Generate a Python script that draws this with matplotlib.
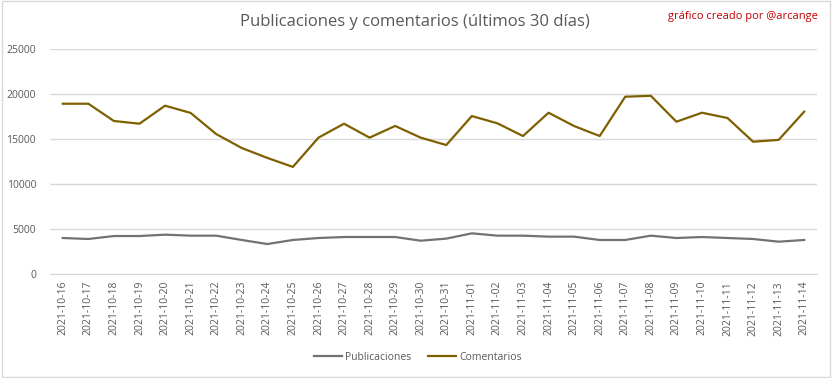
import numpy as np
import matplotlib.pyplot as plt
import matplotlib.patches as patches

# datos
fechas = ['2021-10-16', '2021-10-17', '2021-10-18', '2021-10-19', '2021-10-20',
          '2021-10-21', '2021-10-22', '2021-10-23', '2021-10-24', '2021-10-25',
          '2021-10-26', '2021-10-27', '2021-10-28', '2021-10-29', '2021-10-30',
          '2021-10-31', '2021-11-01', '2021-11-02', '2021-11-03', '2021-11-04',
          '2021-11-05', '2021-11-06', '2021-11-07', '2021-11-08', '2021-11-09',
          '2021-11-10', '2021-11-11', '2021-11-12', '2021-11-13', '2021-11-14']

publicaciones = [4000, 3890, 4220, 4220, 4370, 4260, 4260, 3780, 3330, 3780,
                 4000, 4110, 4110, 4110, 3700, 3930, 4520, 4260, 4260, 4150,
                 4150, 3780, 3780, 4260, 4000, 4110, 4000, 3890, 3590, 3780]

comentarios = [18920, 18920, 17000, 16700, 18700, 17900, 15550, 14000, 12900, 11900,
               15150, 16700, 15150, 16450, 15150, 14330, 17550, 16740, 15330, 17920,
               16440, 15330, 19700, 19800, 16920, 17920, 17330, 14700, 14900, 18040]

gris_texto = '#595959'
col_pub = '#767171'
col_com = '#7F6000'

plt.rcParams['font.family'] = ['Open Sans', 'DejaVu Sans']

fig = plt.figure(figsize=(8.32, 3.78), dpi=100)
fig.patch.set_facecolor('white')

# borde exterior del gráfico
fig.patches.append(patches.Rectangle((0.002, 0.003), 0.995, 0.994, transform=fig.transFigure,
                                     fill=False, edgecolor='#D9D9D9', linewidth=1))

ax = fig.add_axes([50 / 832, 1 - 274 / 378, 767 / 832, 225 / 378])
x = np.arange(len(fechas))
ax.plot(x, publicaciones, color=col_pub, linewidth=1.6, label='Publicaciones', solid_joinstyle='round')
ax.plot(x, comentarios, color=col_com, linewidth=1.6, label='Comentarios', solid_joinstyle='round')

ax.set_xlim(-0.5, len(fechas) - 0.5)
ax.set_ylim(0, 25000)
ax.set_yticks(range(0, 25001, 5000))
ax.set_xticks(x)
ax.set_xticklabels(fechas, rotation=90)
ax.tick_params(axis='both', length=0, labelsize=7.5, colors=gris_texto)
ax.tick_params(axis='y', pad=10)
ax.tick_params(axis='x', pad=5)
ax.grid(axis='y', color='#D9D9D9', linewidth=1)
ax.set_axisbelow(True)
for s in ['top', 'right', 'left']:
    ax.spines[s].set_visible(False)
ax.spines['bottom'].set_color('#D9D9D9')

fig.text(415 / 832, 1 - 22 / 378, 'Publicaciones y comentarios (últimos 30 días)',
         ha='center', va='center', fontsize=12, color=gris_texto)
fig.text(818 / 832, 1 - 16 / 378, 'gráfico creado por @arcange',
         ha='right', va='center', fontsize=8, color='#C00000')

fig.legend(loc='center', bbox_to_anchor=(418 / 832, 1 - 357 / 378), ncol=2, frameon=False,
           fontsize=7.5, labelcolor=gris_texto, handlelength=2.7, handletextpad=0.3,
           columnspacing=1.6)

fig.savefig('out.png', dpi=100)
